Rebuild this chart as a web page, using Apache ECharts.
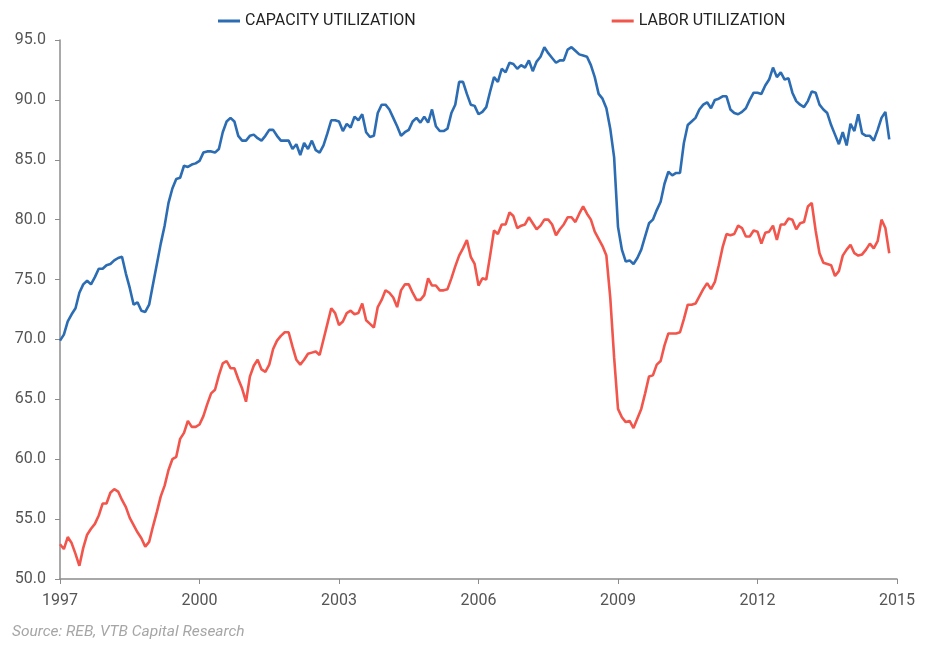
<!DOCTYPE html>
<html>
<head>
<meta charset="utf-8">
<script src="https://cdn.jsdelivr.net/npm/echarts@6/dist/echarts.min.js"></script>
<style>
html,body{margin:0;padding:0;background:#fff;}
#chart{width:926px;height:645px;}
</style>
</head>
<body>
<div id="chart"></div>
<script>
// Monthly data, Jan 1997 onward
var startYear = 1997;
var seriesNames = ['CAPACITY UTILIZATION', 'LABOR UTILIZATION'];
var capacity = [
69.9,70.4,71.5,72.1,72.6,73.9,74.6,74.9,74.6,75.2,
75.9,75.9,76.2,76.3,76.6,76.8,76.9,75.5,74.3,72.9,
73.1,72.4,72.3,72.9,74.6,76.3,78.0,79.5,81.4,82.6,
83.4,83.5,84.5,84.4,84.6,84.7,84.9,85.6,85.7,85.7,
85.6,85.9,87.3,88.2,88.5,88.2,87.0,86.6,86.6,87.0,
87.1,86.8,86.6,87.0,87.5,87.5,87.0,86.6,86.6,86.6,
85.9,86.3,85.4,86.4,85.9,86.6,85.8,85.6,86.2,87.2,
88.3,88.3,88.2,87.4,88.0,87.7,88.6,88.3,88.8,87.3,
86.9,87.0,88.9,89.6,89.6,89.2,88.5,87.8,87.0,87.3,
87.5,88.2,88.5,88.1,88.6,88.1,89.2,87.8,87.4,87.4,
87.6,88.9,89.6,91.5,91.5,90.5,89.6,89.5,88.8,89.0,
89.4,90.7,91.9,91.5,92.6,92.3,93.1,93.0,92.6,92.9,
92.7,93.3,92.4,93.2,93.6,94.4,93.9,93.5,93.1,93.3,
93.3,94.2,94.4,94.1,93.8,93.7,93.6,92.9,91.9,90.5,
90.1,89.3,87.6,85.2,79.4,77.5,76.5,76.6,76.3,76.8,
77.5,78.6,79.7,80.0,80.8,81.5,83.0,84.0,83.7,83.9,
83.9,86.4,87.9,88.2,88.5,89.2,89.6,89.8,89.3,90.0,
90.1,90.3,90.3,89.2,88.9,88.8,89.0,89.3,90.0,90.6,
90.6,90.5,91.2,91.7,92.7,91.9,92.3,91.7,91.8,90.6,
89.9,89.6,89.4,89.9,90.7,90.6,89.6,89.2,88.9,87.9,
87.1,86.3,87.3,86.2,88.0,87.4,88.8,87.2,87.0,87.0,
86.6,87.5,88.5,89.0,86.7
];
var labor = [
52.9,52.5,53.5,53.0,52.1,51.1,52.6,53.7,54.2,54.6,
55.3,56.3,56.3,57.2,57.5,57.3,56.6,56.0,55.1,54.5,
53.9,53.4,52.7,53.1,54.4,55.6,56.9,57.8,59.1,60.0,
60.2,61.7,62.2,63.2,62.7,62.7,62.9,63.6,64.6,65.5,
65.8,67.0,68.0,68.2,67.6,67.6,66.7,65.9,64.8,66.9,
67.8,68.3,67.5,67.3,67.9,69.2,69.9,70.3,70.6,70.6,
69.4,68.3,67.9,68.3,68.8,68.9,69.0,68.7,70.0,71.3,
72.6,72.2,71.2,71.5,72.2,72.4,72.1,72.2,73.0,71.6,
71.3,71.0,72.7,73.3,74.1,73.9,73.5,72.7,74.1,74.6,
74.6,73.9,73.3,73.3,73.7,75.1,74.5,74.5,74.1,74.1,
74.2,75.1,76.1,77.0,77.6,78.3,76.9,76.3,74.5,75.1,
75.0,77.0,79.1,78.8,79.6,79.6,80.6,80.3,79.3,79.5,
79.6,80.2,79.7,79.2,79.5,80.0,80.0,79.6,78.7,79.2,
79.6,80.2,80.2,79.8,80.5,81.1,80.5,80.0,79.0,78.4,
77.8,77.0,73.5,68.5,64.2,63.5,63.1,63.2,62.6,63.4,
64.2,65.5,66.9,67.0,67.9,68.2,69.5,70.5,70.5,70.5,
70.6,71.7,72.9,72.9,73.0,73.6,74.2,74.7,74.2,74.8,
76.2,77.7,78.8,78.7,78.8,79.5,79.3,78.6,78.6,79.1,
79.0,78.0,78.9,79.0,79.5,78.3,79.6,79.6,80.1,80.0,
79.2,79.7,79.8,81.1,81.4,79.1,77.2,76.4,76.3,76.2,
75.3,75.7,77.0,77.5,77.9,77.2,77.0,77.1,77.5,78.0,
77.6,78.2,80.0,79.3,77.2
];
var xTicks = [1997, 2000, 2003, 2006, 2009, 2012, 2015];
var yMin = 50, yMax = 95, yStep = 5;
var sourceText = 'Source: REB, VTB Capital Research';

function toPairs(arr) {
  return arr.map(function (v, i) { return [startYear + i / 12, v]; });
}

var chart = echarts.init(document.getElementById('chart'), null, {renderer: 'canvas'});
var fontFam = 'Roboto, "Noto Sans", sans-serif';
chart.setOption({
  animation: false,
  backgroundColor: '#ffffff',
  grid: {left: 60, right: 29, top: 40, bottom: 66, containLabel: false},
  legend: {
    top: 8,
    left: 213,
    itemGap: 196,
    itemWidth: 22,
    itemHeight: 3,
    icon: 'rect',
    textStyle: {color: '#222', fontSize: 16, fontFamily: fontFam},
    data: seriesNames
  },
  xAxis: {
    type: 'value',
    min: xTicks[0],
    max: xTicks[xTicks.length - 1],
    interval: 3,
    splitLine: {show: false},
    axisLine: {show: true, lineStyle: {color: '#8c8c8c', width: 1.5}},
    axisTick: {show: true, length: 5, lineStyle: {color: '#8c8c8c'}},
    axisLabel: {color: '#555', fontSize: 16, fontFamily: fontFam, margin: 14,
      formatter: function (v) { return String(v); }}
  },
  yAxis: {
    type: 'value',
    min: yMin,
    max: yMax,
    interval: yStep,
    splitLine: {show: false},
    axisLine: {show: true, lineStyle: {color: '#8c8c8c', width: 1.5}},
    axisTick: {show: true, length: 5, lineStyle: {color: '#8c8c8c'}},
    axisLabel: {color: '#555', fontSize: 16, fontFamily: fontFam, margin: 14,
      formatter: function (v) { return v.toFixed(1); }}
  },
  graphic: [{
    type: 'text',
    left: 12,
    top: 624,
    style: {text: sourceText, fill: '#a6a6a6', font: 'italic 15.5px ' + fontFam}
  }],
  series: [
    {
      name: seriesNames[0],
      type: 'line',
      data: toPairs(capacity),
      showSymbol: false,
      symbol: 'none',
      lineStyle: {color: '#2B6CB3', width: 2.6},
      itemStyle: {color: '#2B6CB3'}
    },
    {
      name: seriesNames[1],
      type: 'line',
      data: toPairs(labor),
      showSymbol: false,
      symbol: 'none',
      lineStyle: {color: '#F1554B', width: 2.6},
      itemStyle: {color: '#F1554B'}
    }
  ]
});
</script>
</body>
</html>
